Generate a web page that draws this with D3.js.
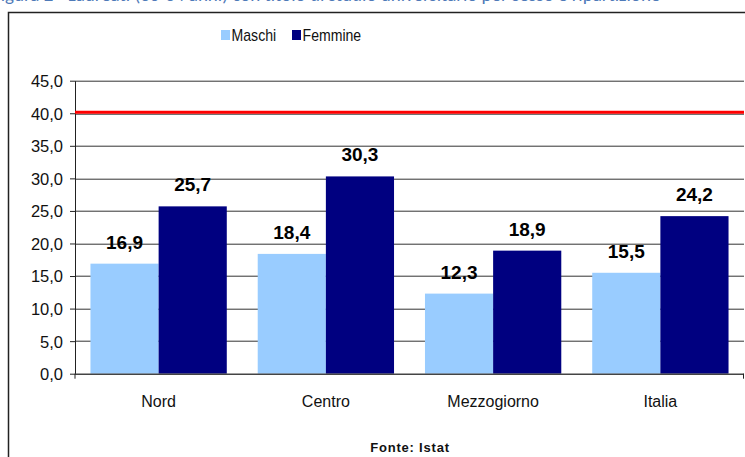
<!DOCTYPE html>
<html>
<head>
<meta charset="utf-8">
<script src="https://cdn.jsdelivr.net/npm/d3@7"></script>
<style>
  body { margin: 0; background: #fff; }
  svg { display: block; font-family: Arial, "Liberation Sans", sans-serif; }
</style>
</head>
<body>
<svg id="chart" width="745" height="457"></svg>
<script>
// data
const areas = ["Nord", "Centro", "Mezzogiorno", "Italia"];
const series = ["Maschi", "Femmine"];
const maschi = [16.9, 18.4, 12.3, 15.5];
const femmine = [25.7, 30.3, 18.9, 24.2];
const target = 40;
const yTicks = [0, 5, 10, 15, 20, 25, 30, 35, 40, 45];

const colors = { Maschi: "#99ccff", Femmine: "#000080" };
const fmt = (v) => d3.format(".1f")(v).replace(".", ",");

const svg = d3.select("#chart");
const margin = { left: 75, right: 1, top: 80.7, bottom: 83.3 };
const width = 745 - margin.left - margin.right;
const height = 457 - margin.top - margin.bottom;

// title, cut off by the top edge in the source
svg.append("text")
  .attr("x", -8)
  .attr("y", 1)
  .attr("fill", "#4f7ab8")
  .attr("font-size", 19)
  .attr("font-family", "Calibri, Carlito, 'Liberation Sans', Arial, sans-serif")
  .text("Figura 2 - Laureati (30-34 anni) con titolo di studio universitario per sesso e ripartizione");

// outer frame
svg.append("rect")
  .attr("x", 8.5)
  .attr("y", 12.5)
  .attr("width", 760)
  .attr("height", 460)
  .attr("fill", "none")
  .attr("stroke", "#222")
  .attr("stroke-width", 1.5);

const g = svg.append("g").attr("transform", `translate(${margin.left},${margin.top})`);

const x0 = d3.scaleBand().domain(areas).range([0, width]).paddingInner(0.185).paddingOuter(0.0925);
const x1 = d3.scaleBand().domain(series).range([0, x0.bandwidth()]);
const y = d3.scaleLinear().domain([0, 45]).range([height, 0]);

// gridlines
g.append("g")
  .selectAll("line")
  .data(yTicks.filter((t) => t > 0))
  .enter()
  .append("line")
  .attr("x1", 0)
  .attr("x2", width)
  .attr("y1", (d) => Math.round(y(d)) + 0.5)
  .attr("y2", (d) => Math.round(y(d)) + 0.5)
  .attr("stroke", "#333")
  .attr("stroke-width", 1);

// y axis
const yAxis = g.append("g")
  .call(d3.axisLeft(y).tickValues(yTicks).tickFormat(fmt).tickSize(5).tickSizeOuter(0));
yAxis.select(".domain").attr("stroke", "#222");
yAxis.selectAll(".tick line").attr("stroke", "#222");
yAxis.selectAll(".tick text")
  .attr("font-size", 16.5)
  .attr("fill", "#111")
  .attr("x", -12)
  .attr("dy", "0.36em")
  .style("font-family", "Arial, 'Liberation Sans', sans-serif");

// bars
const rows = areas.map((a, i) => ({ area: a, values: [
  { key: "Maschi", value: maschi[i] },
  { key: "Femmine", value: femmine[i] },
] }));

const groups = g.selectAll(".grp")
  .data(rows)
  .enter()
  .append("g")
  .attr("class", "grp")
  .attr("transform", (d) => `translate(${x0(d.area)},0)`);

groups.selectAll("rect")
  .data((d) => d.values)
  .enter()
  .append("rect")
  .attr("x", (d) => x1(d.key))
  .attr("y", (d) => y(d.value))
  .attr("width", x1.bandwidth())
  .attr("height", (d) => height - y(d.value))
  .attr("fill", (d) => colors[d.key]);

groups.selectAll("text")
  .data((d) => d.values)
  .enter()
  .append("text")
  .attr("x", (d) => x1(d.key) + x1.bandwidth() / 2)
  .attr("y", (d) => y(d.value) - 15)
  .attr("text-anchor", "middle")
  .attr("font-size", 19)
  .attr("font-weight", "bold")
  .attr("fill", "#000")
  .text((d) => fmt(d.value));

// x axis baseline
g.append("line")
  .attr("x1", 0)
  .attr("x2", width)
  .attr("y1", height + 0.5)
  .attr("y2", height + 0.5)
  .attr("stroke", "#444")
  .attr("stroke-width", 1.5);
g.append("line")
  .attr("x1", width - 0.5).attr("x2", width - 0.5)
  .attr("y1", height).attr("y2", height + 5)
  .attr("stroke", "#222");
g.append("line")
  .attr("x1", 0).attr("x2", 0)
  .attr("y1", height).attr("y2", height + 5)
  .attr("stroke", "#222");

// category labels
g.selectAll(".cat")
  .data(areas)
  .enter()
  .append("text")
  .attr("class", "cat")
  .attr("x", (d) => x0(d) + x0.bandwidth() / 2)
  .attr("y", height + 33)
  .attr("text-anchor", "middle")
  .attr("font-size", 16)
  .attr("fill", "#111")
  .text((d) => d);

// target line
g.append("line")
  .attr("x1", 0)
  .attr("x2", width)
  .attr("y1", y(target) - 1)
  .attr("y2", y(target) - 1)
  .attr("stroke", "#ff0000")
  .attr("stroke-width", 3);

// legend
const legend = svg.append("g").attr("transform", "translate(221,30)");
let lx = 0;
series.forEach((s) => {
  const item = legend.append("g").attr("transform", `translate(${lx},0)`);
  item.append("rect").attr("x", 0).attr("y", 0).attr("width", 9).attr("height", 10).attr("fill", colors[s]);
  item.append("text").attr("x", 12).attr("y", 11).attr("font-size", 16).attr("fill", "#111")
    .attr("transform", "scale(0.88,1)").text(s);
  lx += 71;
});

// source
svg.append("text")
  .attr("x", 410)
  .attr("y", 452)
  .attr("text-anchor", "middle")
  .attr("font-size", 13)
  .attr("font-weight", "bold")
  .attr("letter-spacing", 0.8)
  .attr("fill", "#111")
  .text("Fonte: Istat");
</script>
</body>
</html>
